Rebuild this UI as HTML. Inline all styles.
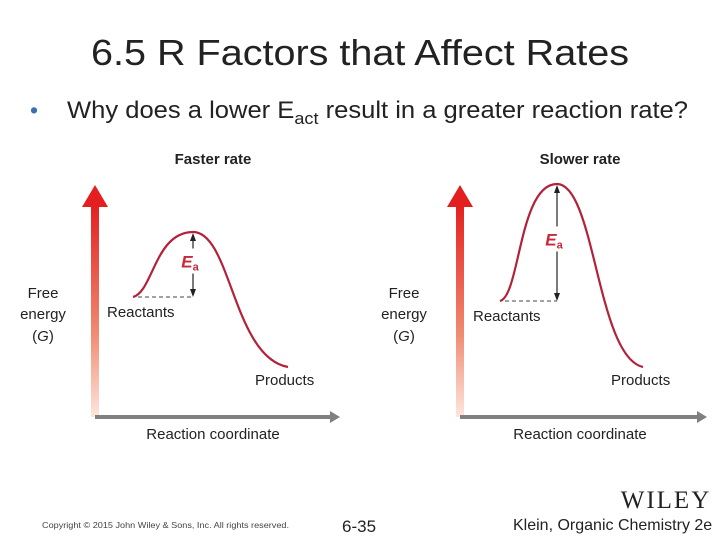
<!DOCTYPE html>
<html><head><meta charset="utf-8"><style>
body{margin:0;background:#fff;}
svg{display:block;font-family:"Liberation Sans",sans-serif;}
</style></head><body>
<svg width="720" height="540" viewBox="0 0 720 540">
<defs>
<linearGradient id="ga" x1="0" y1="1" x2="0" y2="0">
<stop offset="0" stop-color="#fde6dc"/><stop offset="0.4" stop-color="#f08a70"/><stop offset="1" stop-color="#e41f1f"/>
</linearGradient>
</defs>
<text x="360" y="65" text-anchor="middle" font-size="36" textLength="538" lengthAdjust="spacingAndGlyphs" fill="#222">6.5 R Factors that Affect Rates</text>
<text x="30" y="118" font-size="23" fill="#3a6fb0">•</text>
<text x="67" y="118" font-size="24" fill="#222" textLength="621" lengthAdjust="spacingAndGlyphs">Why does a lower E<tspan font-size="17" dy="6">act</tspan><tspan dy="-6"> result in a greater reaction rate?</tspan></text>
<g font-size="15" fill="#222" text-anchor="middle">
<text x="43" y="298">Free</text>
<text x="43" y="319">energy</text>
<text x="43" y="341">(<tspan font-style="italic">G</tspan>)</text>
<text x="404" y="298">Free</text>
<text x="404" y="319">energy</text>
<text x="404" y="341">(<tspan font-style="italic">G</tspan>)</text>
</g>
<g id="charts"></g>
<text x="42" y="528" font-size="8.5" textLength="247" lengthAdjust="spacingAndGlyphs" fill="#444">Copyright © 2015 John Wiley &amp; Sons, Inc. All rights reserved.</text>
<text x="342" y="532" font-size="17" fill="#222">6-35</text>
<text x="513" y="530" font-size="16" fill="#222">Klein, Organic Chemistry 2e</text>
<text x="666" y="508" text-anchor="middle" font-family="Liberation Serif,serif" font-size="25" letter-spacing="2" fill="#222">WILEY</text>
</svg>
<script>
// energy values (0 = products level, larger = higher energy)
const panelTitles = ["Faster rate", "Slower rate"];
const reactantEnergy = [70, 66];
const peakEnergy = [135, 183];
const productEnergy = [0, 0];
const panels = [
 {x0:95, xs:133, xp:193, xe:288, y0:367, top:185, bot:417, right:340, rx:107, px:255, cx:213},
 {x0:460, xs:500, xp:557, xe:643, y0:367, top:185, bot:417, right:707, rx:473, px:611, cx:580}
];
const NS="http://www.w3.org/2000/svg";
const g=document.getElementById('charts');
function el(t,a,p){const e=document.createElementNS(NS,t);for(const k in a)e.setAttribute(k,a[k]);(p||g).appendChild(e);return e;}
panels.forEach((P,i)=>{
 const y=v=>P.y0-v;
 const grp=el('g',{});
 
 
 const t=el('text',{x:P.cx,y:164,'text-anchor':'middle','font-size':15,'font-weight':'bold',fill:'#222'},grp);t.textContent=panelTitles[i];
 
 
 const ya=el('rect',{x:P.x0-4,y:P.top+20,width:8,height:P.bot-P.top-20,fill:'url(#ga)'},grp);
 
 
 el('polygon',{points:`${P.x0-13},${P.top+22} ${P.x0},${P.top} ${P.x0+13},${P.top+22}`,fill:'#e41f1f'},grp);
 const xa=el('line',{x1:P.x0,y1:P.bot,x2:P.right-8,y2:P.bot,stroke:'#808080','stroke-width':4},grp);
 
 
 el('polygon',{points:`${P.right-10},${P.bot-6} ${P.right},${P.bot} ${P.right-10},${P.bot+6}`,fill:'#808080'},grp);
 const ys=y(reactantEnergy[i]),yp=y(peakEnergy[i]),ye=y(productEnergy[i]);
 const d=`M${P.xs},${ys} C${P.xs+20},${ys-5} ${P.xp-38},${yp} ${P.xp},${yp} C${P.xp+38},${yp} ${P.xp+40},${ye-10} ${P.xe},${ye}`;
 const c=el('path',{d,fill:'none',stroke:'#b3213a','stroke-width':2.2},grp);
 
 
 el('line',{x1:P.xs+5,y1:ys,x2:P.xp,y2:ys,stroke:'#444','stroke-width':1,'stroke-dasharray':'4,3'},grp);
 const mid=(ys+yp)/2;
 el('line',{x1:P.xp,y1:yp+3,x2:P.xp,y2:mid-16,stroke:'#222','stroke-width':1.2},grp);
 el('line',{x1:P.xp,y1:mid+9,x2:P.xp,y2:ys-2,stroke:'#222','stroke-width':1.2},grp);
 el('polygon',{points:`${P.xp-3},${yp+9} ${P.xp},${yp+1} ${P.xp+3},${yp+9}`,fill:'#222'},grp);
 el('polygon',{points:`${P.xp-3},${ys-8} ${P.xp},${ys} ${P.xp+3},${ys-8}`,fill:'#222'},grp);
 const ea=el('text',{x:P.xp-3,y:mid+3,'font-size':17,'font-weight':'bold','font-style':'italic',fill:'#c8283a','text-anchor':'middle'},grp);
 ea.innerHTML='E<tspan font-size="11" dy="3" font-style="normal">a</tspan>';
 
 
 const r=el('text',{x:P.rx,y:ys+20,'font-size':15,fill:'#222'},grp);r.textContent='Reactants';
 
 
 const pr=el('text',{x:P.px,y:ye+18,'font-size':15,fill:'#222'},grp);pr.textContent='Products';
 
 
 const rc=el('text',{x:P.cx,y:439,'font-size':15,fill:'#222','text-anchor':'middle'},grp);rc.textContent='Reaction coordinate';
 
 
});
</script>
</body></html>
